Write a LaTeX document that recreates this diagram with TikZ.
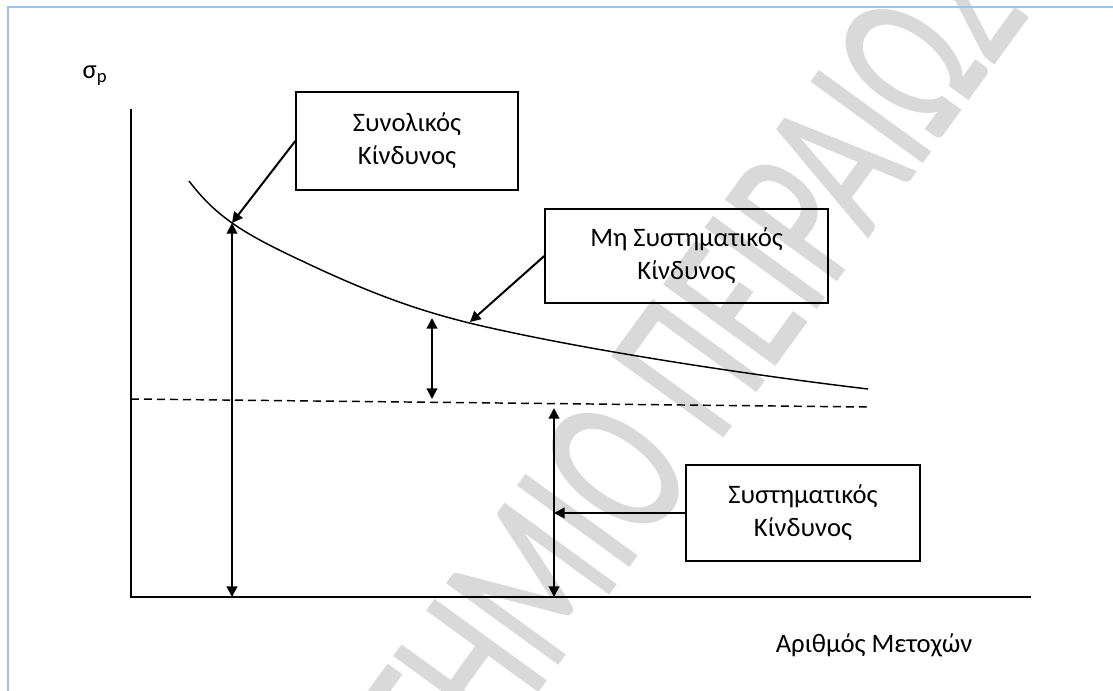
\documentclass[tikz,border=0pt]{standalone}
\usepackage{fontspec}
\setmainfont{Carlito}
\newfontfamily\wmfont[FakeBold=1.2]{Carlito}
\usetikzlibrary{arrows.meta}
\definecolor{framecol}{HTML}{9DC3E6}
\definecolor{wmcol}{HTML}{D9D9D9}
\begin{document}
\begin{tikzpicture}[x=0.75pt,y=-0.75pt,
  font=\fontsize{20pt}{24.5pt}\selectfont,
  box/.style={draw, line width=1.1pt, inner sep=0pt, align=center},
  ln/.style={line width=1.1pt},
  arr/.style={line width=1.5pt, -{Triangle[length=8pt,width=8pt]}},
  darr/.style={line width=1.5pt, {Triangle[length=8pt,width=8pt]}-{Triangle[length=8pt,width=8pt]}},
  wm/.style={text=wmcol, font=\wmfont\fontsize{106pt}{106pt}\selectfont, rotate=54, yscale=1.5, inner sep=0pt}]
\useasboundingbox (0,0) rectangle (1113,690);
\clip (0,0) rectangle (1113,690);
\fill[white] (0,0) rectangle (1113,690);
% watermark
\node[wm, anchor=base east] (wm1) at (698,470) {ΠΑΝΕΠΙΣΤΗΜΙΟ};
\node[wm, anchor=base west] (wm2) at (717,444) {ΠΕΙΡΑΙΩΣ};
% frame
\draw[framecol, line width=1.2pt] (8,7) rectangle (1140,720);
% label sigma
\node (sig) at (95,76) {σ\textsubscript{p}};
% axes
\coordinate (ytop) at (131,109);
\coordinate (orig) at (131,597);
\coordinate (xend) at (1031,597);
\draw[ln] (ytop) -- (orig) -- (xend);
% curve
\coordinate (c1) at (232,223);
\coordinate (c2) at (470,322);
\draw[ln] (189,181) .. controls (215,215) and (240,232) .. (300,260)
  .. controls (380,298) and (430,315) .. (500,330)
  .. controls (600,352) and (750,375) .. (868,389);
% dashed
\coordinate (d0) at (131,399);
\coordinate (d1) at (868,407);
\draw[ln, dash pattern=on 6pt off 3.75pt] (d0) -- (d1);
% boxes
\node[box, minimum width=166.5pt, minimum height=73.5pt] (tot) at (407,141) {Συνολικός\\Κίνδυνος};
\node[box, minimum width=212.25pt, minimum height=70.5pt] (uns) at (686.5,256) {Μη Συστηματικός\\Κίνδυνος};
\node[box, minimum width=175.5pt, minimum height=72pt] (sys) at (803,513) {Συστηματικός\\Κίνδυνος};
\node (xl) at (874,645) {Αριθμός Μετοχών};
% vertical arrows
\coordinate (t0) at (232,597);
\draw[darr] (c1) -- (t0);
\coordinate (u0) at (432,318);
\coordinate (u1) at (432,399);
\draw[darr] (u0) -- (u1);
\coordinate (s0) at (554,408);
\coordinate (s1) at (554,597);
\draw[darr] (s0) -- (s1);
\coordinate (s2) at (554,513);
% pointers
\draw[arr] (tot.west) -- (c1);
\draw[arr] (uns.west) -- (c2);
\draw[arr] (sys.west) -- (s2);
\end{tikzpicture}
\end{document}
